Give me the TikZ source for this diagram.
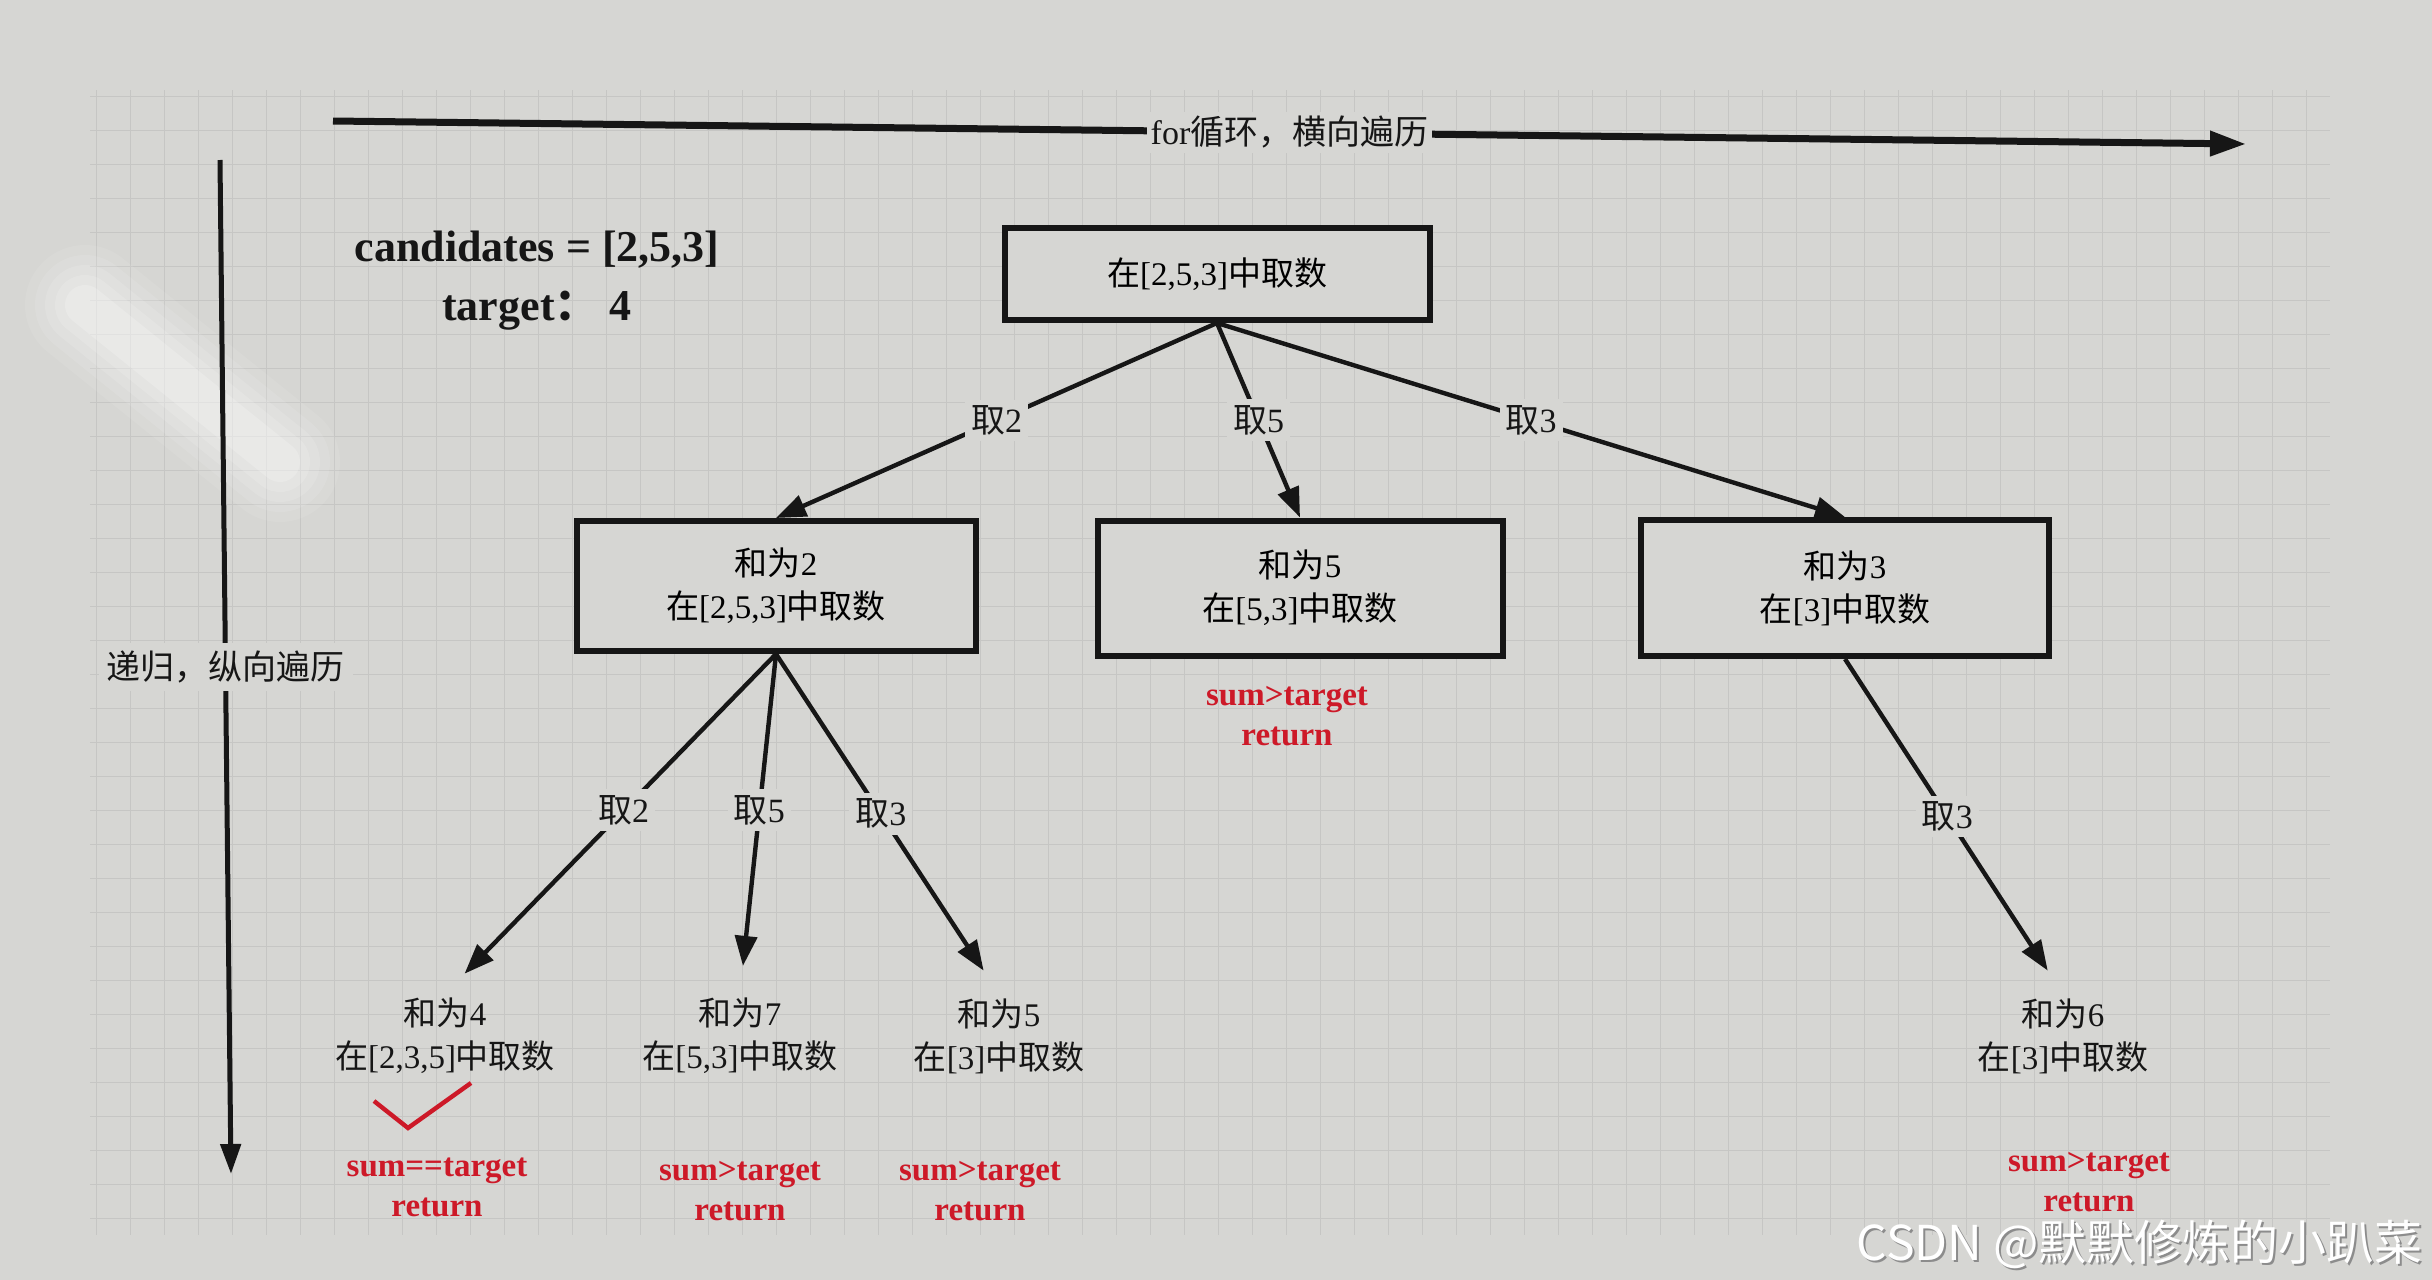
\documentclass[tikz,border=0pt]{standalone}
\usepackage{fontspec}
\setmainfont{Liberation Serif}
\newfontfamily\zhfont{Noto Sans CJK SC}
\newcommand{\zh}[1]{{\zhfont #1}}
\usetikzlibrary{arrows.meta}
\definecolor{bg}{RGB}{214,214,211}
\definecolor{gridc}{RGB}{198,198,196}
\definecolor{redt}{RGB}{205,25,40}
\definecolor{ink}{RGB}{22,22,22}
\tikzset{
  boxnode/.style={draw=ink, line width=3pt, fill=bg, align=center, font=\fontsize{16.5}{21.5}\selectfont},
  leafnode/.style={align=center, inner sep=2pt, font=\fontsize{16.5}{21.5}\selectfont, text=ink},
  edgeline/.style={draw=ink, line width=2.2pt, -{Triangle[length=15pt,width=11pt]}},
  elab/.style={fill=bg, inner sep=3pt, font=\fontsize{17}{20}\selectfont, text=ink},
  redlab/.style={text=redt, align=center, font=\bfseries\fontsize{16.5}{20}\selectfont},
}
\begin{document}
\begin{tikzpicture}[x=0.5pt,y=-0.5pt]
\useasboundingbox (0,0) rectangle (2432,1280);
\fill[bg] (0,0) rectangle (2432,1280);
% faint grid
\foreach \x in {96,130,...,2330} \draw[gridc, line width=0.5pt] (\x,90) -- (\x,1235);
\foreach \y in {96,130,...,1235} \draw[gridc, line width=0.5pt] (90,\y) -- (2330,\y);
% glare (soft)
\foreach \w/\o in {60/0.08, 50/0.1, 40/0.12, 30/0.15, 20/0.2} {
  \draw[white, opacity=\o, line width=\w pt, line cap=round] (85,305) -- (280,462);
}

% axes
\coordinate (hs) at (333,121);
\coordinate (he) at (2246,144);
\draw[ink, line width=3.5pt, -{Triangle[length=18pt,width=12pt]}] (hs) -- node[elab, inner sep=2pt] (hl) {for\zh{循环，横向遍历}} (he);
\coordinate (vs) at (220,160);
\coordinate (ve) at (231,1174);
\draw[ink, line width=2.5pt, -{Triangle[length=15pt,width=10pt]}] (vs) -- node[elab, inner sep=4pt] (vl) {\zh{递归，纵向遍历}} (ve);

% header
\node[align=center, text=ink, font=\bfseries\fontsize{22}{29.5}\selectfont] (info) at (537,281) {candidates = [2,5,3]\\target\zh{：}\ 4};

% boxes
\node[boxnode, minimum width=212.5pt, minimum height=46pt] (root) at (1217,274) {\zh{在}[2,5,3]\zh{中取数}};
\node[boxnode, minimum width=199.5pt, minimum height=65pt] (a) at (776,586) {\zh{和为}2\\\zh{在}[2,5,3]\zh{中取数}};
\node[boxnode, minimum width=202.5pt, minimum height=67.5pt] (b) at (1300,588) {\zh{和为}5\\\zh{在}[5,3]\zh{中取数}};
\node[boxnode, minimum width=204pt, minimum height=68pt] (c) at (1845,588) {\zh{和为}3\\\zh{在}[3]\zh{中取数}};

% leaves
\node[leafnode] (l4) at (445,1036) {\zh{和为}4\\\zh{在}[2,3,5]\zh{中取数}};
\node[leafnode] (l7) at (740,1036) {\zh{和为}7\\\zh{在}[5,3]\zh{中取数}};
\node[leafnode] (l5) at (999,1036) {\zh{和为}5\\\zh{在}[3]\zh{中取数}};
\node[leafnode] (l6) at (2063,1036) {\zh{和为}6\\\zh{在}[3]\zh{中取数}};

% edges level 1
\draw[edgeline] (root.south) -- node[elab] (e1) {\zh{取}2} (a.north);
\draw[edgeline] (root.south) -- node[elab] (e2) {\zh{取}5} (b.north);
\draw[edgeline] (root.south) -- node[elab] (e3) {\zh{取}3} (c.north);
% edges level 2
\draw[edgeline, shorten >=14pt] (a.south) -- node[elab, pos=0.46] (e4) {\zh{取}2} (l4.north);
\draw[edgeline, shorten >=14pt] (a.south) -- node[elab, pos=0.46] (e5) {\zh{取}5} (l7.north);
\draw[edgeline, shorten >=14pt] (a.south) -- node[elab, pos=0.47] (e6) {\zh{取}3} (l5.north);
\draw[edgeline, shorten >=14pt] (c.south) -- node[elab, pos=0.47] (e7) {\zh{取}3} (l6.north);

% red notes
\node[redlab] (rb) at (1287,716) {sum>target\\return};
\node[redlab] (r4) at (437,1187) {sum==target\\return};
\node[redlab] (r7) at (740,1191) {sum>target\\return};
\node[redlab] (r5) at (980,1191) {sum>target\\return};
\node[redlab, inner sep=1pt] (r6) at (2089,1182) {sum>target\\return};
% check mark
\draw[redt, line width=2.2pt] (374,1101) -- (408,1128) -- (471,1083);

% watermark
\node[anchor=east, inner sep=0pt, text=black!45, font=\zhfont\fontsize{24}{26}\selectfont] at (2425,1246) {CSDN @默默修炼的小趴菜};
\node[anchor=east, inner sep=0pt, text=white, font=\zhfont\fontsize{24}{26}\selectfont] (wm) at (2423,1244) {CSDN @默默修炼的小趴菜};
\end{tikzpicture}
\end{document}
